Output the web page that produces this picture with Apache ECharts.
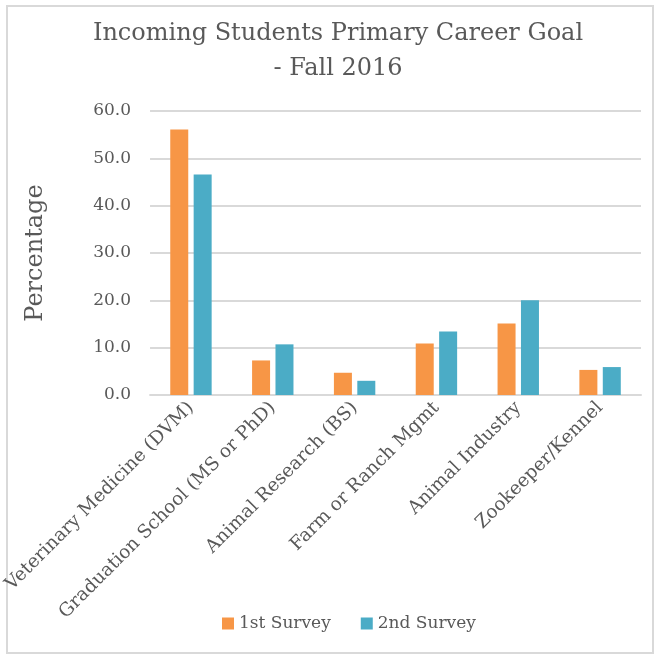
<!DOCTYPE html>
<html>
<head>
<meta charset="utf-8">
<script src="https://cdn.jsdelivr.net/npm/echarts@6/dist/echarts.min.js"></script>
<style>
  html, body { margin: 0; padding: 0; background: #fff; }
  #chart { width: 654px; height: 654px; }
</style>
</head>
<body>
<div id="chart"></div>
<script>
// Career goal categories and survey percentages
const categories = [
  'Veterinary Medicine (DVM)',
  'Graduation School (MS or PhD)',
  'Animal Research (BS)',
  'Farm or Ranch Mgmt',
  'Animal Industry',
  'Zookeeper/Kennel'
];
const firstSurvey = [56.1, 7.3, 4.7, 10.9, 15.1, 5.3];
const secondSurvey = [46.6, 10.7, 3.0, 13.4, 20.0, 5.9];
const seriesNames = ['1st Survey', '2nd Survey'];
const yTicks = { min: 0, max: 60, interval: 10 };

const FONT = '"DejaVu Serif", serif';
const TEXT = '#595959';

const chart = echarts.init(document.getElementById('chart'), null, { renderer: 'canvas' });
chart.setOption({
  animation: false,
  backgroundColor: '#ffffff',
  color: ['#F79646', '#4BACC6'],
  graphic: [{
    type: 'rect',
    shape: { x: 7, y: 6, width: 646, height: 647 },
    style: { fill: 'none', stroke: '#d9d9d9', lineWidth: 2 },
    silent: true
  }],
  title: {
    text: 'Incoming Students Primary Career Goal\n- Fall 2016',
    left: 333,
    top: 11,
    textAlign: 'center',
    textStyle: {
      fontFamily: FONT, fontSize: 24, fontWeight: 'normal',
      color: TEXT, lineHeight: 35
    }
  },
  legend: {
    data: seriesNames,
    bottom: 17,
    left: 217,
    itemWidth: 12,
    itemHeight: 12,
    itemGap: 30,
    icon: 'rect',
    textStyle: { fontFamily: FONT, fontSize: 17, color: TEXT }
  },
  grid: { left: 148, right: 13, top: 111, bottom: 259, containLabel: false },
  xAxis: {
    type: 'category',
    data: categories,
    axisLine: { lineStyle: { color: '#d9d9d9', width: 2 } },
    axisTick: { show: false },
    axisLabel: {
      rotate: 45, interval: 0, margin: 10,
      fontFamily: FONT, fontSize: 18.5, color: TEXT
    }
  },
  yAxis: {
    type: 'value',
    min: yTicks.min, max: yTicks.max, interval: yTicks.interval,
    name: 'Percentage',
    nameLocation: 'middle',
    nameGap: 102,
    nameRotate: 90,
    nameTextStyle: { fontFamily: FONT, fontSize: 24, color: TEXT },
    axisLine: { show: false },
    axisTick: { show: false },
    splitLine: { lineStyle: { color: '#d9d9d9', width: 2 } },
    axisLabel: {
      margin: 19,
      formatter: v => v.toFixed(1),
      fontFamily: FONT, fontSize: 17, color: TEXT
    }
  },
  series: [
    { name: seriesNames[0], type: 'bar', data: firstSurvey, barWidth: 18, barGap: '30%' },
    { name: seriesNames[1], type: 'bar', data: secondSurvey, barWidth: 18, barGap: '30%' }
  ]
});
</script>
</body>
</html>
